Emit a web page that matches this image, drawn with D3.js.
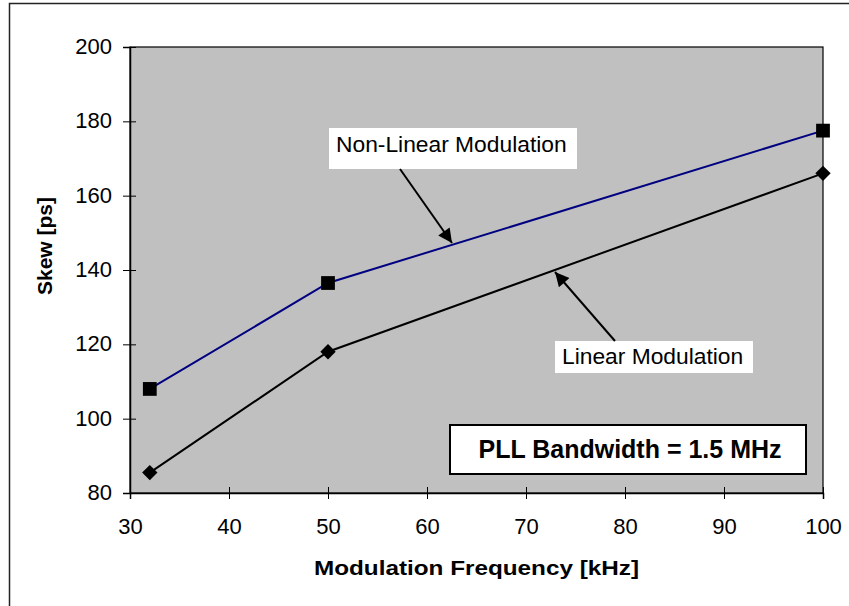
<!DOCTYPE html>
<html>
<head>
<meta charset="utf-8">
<script src="https://cdn.jsdelivr.net/npm/d3@7"></script>
<style>
  body { margin: 0; background: #fff; }
  text { font-family: "Liberation Sans", Arial, sans-serif; fill: #000; }
</style>
</head>
<body>
<div id="chart"></div>
<script>
// data
var freqs = [32, 50, 100]
var nonLinearSkew = [108, 136.5, 177.5]
var linearSkew = [85.5, 118, 166]
var xTicks = [30, 40, 50, 60, 70, 80, 90, 100]
var yTicks = [80, 100, 120, 140, 160, 180, 200]

var svgWidth = 849
var svgHeight = 606
var plot = { left: 130, top: 47, right: 823, bottom: 493 }

var svg = d3.select("#chart").append("svg")
    .attr("width", svgWidth)
    .attr("height", svgHeight)

// outer frame (only left and top edges show)
svg.append("rect")
    .attr("x", 9.5).attr("y", 3.5)
    .attr("width", 900).attr("height", 700)
    .attr("fill", "none")
    .attr("stroke", "#222")
    .attr("stroke-width", 1.5)

var xScale = d3.scaleLinear().domain([30, 100]).range([plot.left, plot.right])
var yScale = d3.scaleLinear().domain([80, 200]).range([plot.bottom, plot.top])

// plot area
svg.append("rect")
    .attr("x", plot.left).attr("y", plot.top)
    .attr("width", plot.right - plot.left)
    .attr("height", plot.bottom - plot.top)
    .attr("fill", "#c0c0c0")
    .attr("stroke", "#000")
    .attr("stroke-width", 1.2)

// x axis with cross ticks
var xAxis = svg.append("g")
    .attr("transform", `translate(0,${plot.bottom})`)
    .call(d3.axisBottom(xScale).tickValues(xTicks).tickSize(6).tickPadding(0))
xAxis.select(".domain").attr("stroke", "#000").attr("stroke-width", 1.5)
xAxis.selectAll(".tick line").attr("y1", -6).attr("y2", 6).attr("stroke", "#000")
xAxis.selectAll(".tick text")
    .attr("y", 41).attr("dy", null)
    .attr("font-size", "22px")
    .attr("font-family", "Liberation Sans, Arial, sans-serif")

// y axis with cross ticks
var yAxis = svg.append("g")
    .attr("transform", `translate(${plot.left},0)`)
    .call(d3.axisLeft(yScale).tickValues(yTicks).tickSize(7).tickPadding(0))
yAxis.select(".domain").attr("stroke", "#000").attr("stroke-width", 1.5)
yAxis.selectAll(".tick line").attr("x1", -7).attr("x2", 6).attr("stroke", "#000")
yAxis.selectAll(".tick text")
    .attr("x", -18).attr("dy", "0.3em")
    .attr("font-size", "22px")
    .attr("font-family", "Liberation Sans, Arial, sans-serif")

// axis titles
svg.append("text")
    .attr("x", (plot.left + plot.right) / 2)
    .attr("y", 575)
    .attr("text-anchor", "middle")
    .attr("font-size", "20px")
    .attr("font-weight", "bold")
    .attr("textLength", 325)
    .attr("lengthAdjust", "spacingAndGlyphs")
    .text("Modulation Frequency [kHz]")

svg.append("text")
    .attr("transform", "translate(52,246) rotate(-90)")
    .attr("text-anchor", "middle")
    .attr("font-size", "21px")
    .attr("font-weight", "bold")
    .text("Skew [ps]")

// lines
var nonLinear = freqs.map((f, i) => ({ x: f, y: nonLinearSkew[i] }))
var linear = freqs.map((f, i) => ({ x: f, y: linearSkew[i] }))
var line = d3.line().x(d => xScale(d.x)).y(d => yScale(d.y))

svg.append("path").datum(nonLinear)
    .attr("d", line)
    .attr("fill", "none")
    .attr("stroke", "#000080")
    .attr("stroke-width", 2)

svg.append("path").datum(linear)
    .attr("d", line)
    .attr("fill", "none")
    .attr("stroke", "#000")
    .attr("stroke-width", 2)

svg.selectAll(".sq").data(nonLinear).enter()
    .append("path").classed("sq", true)
    .attr("d", d3.symbol().type(d3.symbolSquare).size(190))
    .attr("transform", d => `translate(${xScale(d.x)},${yScale(d.y)})`)
    .attr("fill", "#000")

svg.selectAll(".dm").data(linear).enter()
    .append("path").classed("dm", true)
    .attr("d", d3.symbol().type(d3.symbolSquare).size(118))
    .attr("transform", d => `translate(${xScale(d.x)},${yScale(d.y)}) rotate(45)`)
    .attr("fill", "#000")

// arrow marker
svg.append("defs").append("marker")
    .attr("id", "arrow")
    .attr("viewBox", "0 0 10 10")
    .attr("refX", 10).attr("refY", 5)
    .attr("markerWidth", 16).attr("markerHeight", 14)
    .attr("markerUnits", "userSpaceOnUse")
    .attr("orient", "auto")
    .append("path")
    .attr("d", "M0,0 L10,5 L0,10 z")
    .attr("fill", "#000")

// callouts
svg.append("rect")
    .attr("x", 329).attr("y", 128).attr("width", 248).attr("height", 41)
    .attr("fill", "#fff")
svg.append("text")
    .attr("x", 336).attr("y", 152)
    .attr("font-size", "22.8px")
    .text("Non-Linear Modulation")
svg.append("line")
    .attr("x1", 400).attr("y1", 169).attr("x2", 452).attr("y2", 243)
    .attr("stroke", "#000").attr("stroke-width", 2)
    .attr("marker-end", "url(#arrow)")

svg.append("rect")
    .attr("x", 555).attr("y", 341).attr("width", 198).attr("height", 32)
    .attr("fill", "#fff")
svg.append("text")
    .attr("x", 562).attr("y", 364)
    .attr("font-size", "22.8px")
    .text("Linear Modulation")
svg.append("line")
    .attr("x1", 615).attr("y1", 341).attr("x2", 555).attr("y2", 272)
    .attr("stroke", "#000").attr("stroke-width", 2)
    .attr("marker-end", "url(#arrow)")

svg.append("rect")
    .attr("x", 450).attr("y", 425).attr("width", 356).attr("height", 49)
    .attr("fill", "#fff")
    .attr("stroke", "#000")
    .attr("stroke-width", 2)
svg.append("text")
    .attr("x", 630).attr("y", 458)
    .attr("text-anchor", "middle")
    .attr("font-size", "25px")
    .attr("font-weight", "bold")
    .text("PLL Bandwidth = 1.5 MHz")
</script>
</body>
</html>
